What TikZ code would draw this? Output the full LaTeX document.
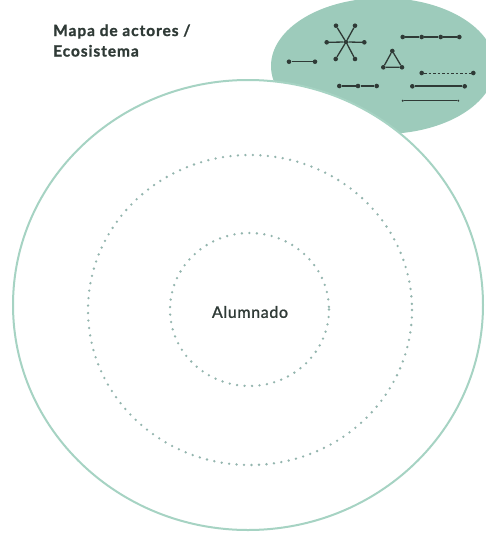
\documentclass[tikz,border=0pt]{standalone}
\usepackage{fontspec}
\setmainfont{Lato}
\newfontfamily\headfont[LetterSpace=6, FakeBold=1.2]{Lato}
\newfontfamily\midweight[LetterSpace=4, FakeBold=1.2]{Lato}
\usepackage{tikz}
\usetikzlibrary{positioning}
\definecolor{mint}{HTML}{9DCBBB}
\definecolor{ring}{HTML}{A6D3C3}
\definecolor{orbitgray}{HTML}{93B5AE}
\definecolor{ink}{HTML}{2F3A36}

\begin{document}
\begin{tikzpicture}[
    x=1pt, y=-1pt,
    actor/.style={circle, fill=ink, inner sep=0pt, minimum size=4.6pt},
    tinyactor/.style={circle, fill=ink, inner sep=0pt, minimum size=2.2pt},
    tie/.style={draw=ink, line width=1.3pt},
    orbit/.style={draw=orbitgray, line width=2.6pt, line cap=round, dash pattern=on 0pt off 7.5pt},
    heading/.style={font=\headfont\bfseries\fontsize{15.5}{18}\selectfont, text=ink, anchor=base west, inner sep=0pt}
]
\useasboundingbox (0,0) rectangle (486,541);

% ecosystem cloud behind the big circle
\fill[mint] (383,66) ellipse [x radius=112, y radius=68];

% circles
\draw[ring, line width=2pt, fill=white] (248,305) ellipse [x radius=235, y radius=225];
\draw[orbit] (250,310) ellipse [x radius=162, y radius=155];
\draw[orbit] (249.5,309.5) ellipse [x radius=79.5, y radius=76.5];

% labels
\node[heading] (title1) at (53,36) {Mapa de actores /};
\node[heading] (title2) at (53,56.5) {Ecosistema};
\node[font=\midweight\fontsize{16}{18}\selectfont, text=ink] (center) at (250,312) {Alumnado};

% star
\node[actor] (hub) at (346,42) {};
\foreach \i/\p in {1/{(336,25.7)}, 2/{(355,25.7)}, 3/{(326.7,42.3)},
                   4/{(364.3,42.3)}, 5/{(335.7,59)}, 6/{(355,59)}}
{
  \node[actor] (s\i) at \p {};
  \draw[tie] (hub) -- (s\i);
}

% pair
\node[actor] (pa) at (289,61.7) {};
\node[actor] (pb) at (315,61.7) {};
\draw[tie] (pa) -- (pb);

% chain of four
\foreach \i/\x in {1/402.7, 2/421.7, 3/440.7, 4/459.3}
  \node[actor] (c\i) at (\x,37) {};
\draw[tie] (c1) -- (c2) -- (c3) -- (c4);

% triangle
\node[actor] (t1) at (392.3,51) {};
\node[actor] (t2) at (383.3,67.3) {};
\node[actor] (t3) at (402,67.3) {};
\draw[tie] (t1) -- (t2) -- (t3) -- (t1);

% weak tie
\node[actor] (wa) at (421.7,73) {};
\node[actor] (wb) at (473.3,73) {};
\draw[tie, line width=0.9pt, dash pattern=on 2.5pt off 2pt] (wa) -- (wb);

% chain of three
\foreach \i/\x in {1/339.3, 2/358, 3/376.7}
  \node[actor] (r\i) at (\x,86) {};
\draw[tie] (r1) -- (r2) -- (r3);

% strong tie
\node[actor] (ka) at (412.3,86.3) {};
\node[actor] (kb) at (464.7,86.3) {};
\draw[tie, line width=1.7pt] (ka) -- (kb);

% thin tie
\node[tinyactor] (la) at (402.7,100.7) {};
\node[tinyactor] (lb) at (458.3,100.7) {};
\draw[tie, line width=0.8pt] (la) -- (lb);
\end{tikzpicture}
\end{document}
